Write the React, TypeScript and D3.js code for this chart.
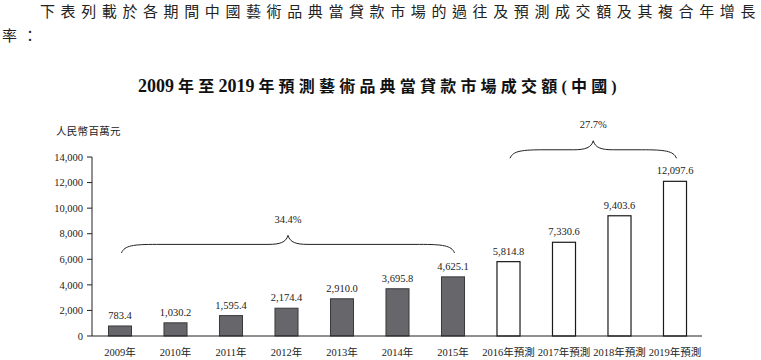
import React from "react";
import * as d3 from "d3";

const categories = [
  "2009年", "2010年", "2011年", "2012年", "2013年", "2014年", "2015年",
  "2016年預測", "2017年預測", "2018年預測", "2019年預測",
];
const values = [783.4, 1030.2, 1595.4, 2174.4, 2910.0, 3695.8, 4625.1, 5814.8, 7330.6, 9403.6, 12097.6];
const forecast = [false, false, false, false, false, false, false, true, true, true, true];
const yTicks = [0, 2000, 4000, 6000, 8000, 10000, 12000, 14000];
const cagrLabels = ["34.4%", "27.7%"];
const cagrFrom = ["2009年", "2016年預測"];
const cagrTo = ["2015年", "2019年預測"];
const braceLevels = [6500, 13900];

const FONT = "'Liberation Serif', 'Noto Sans CJK TC', serif";
const W = 761;
const H = 360;

export default function App() {
  const y = d3.scaleLinear().domain([0, 14000]).range([336, 157]);
  const x = d3
    .scaleBand<string>()
    .domain(categories)
    .range([92.25, 702.75])
    .paddingInner(0.585)
    .paddingOuter(0.2925);
  const bw = x.bandwidth();
  const fmt = d3.format(",.1f");
  const tickFmt = d3.format(",");

  const bracePath = (x0: number, x1: number, yb: number) => {
    const yh = yb - 8.5;
    const yp = yb - 17.5;
    const xc = (x0 + x1) / 2;
    const p = d3.path();
    p.moveTo(x0, yb);
    p.bezierCurveTo(x0 + 3, yh + 1, x0 + 12, yh, x0 + 35, yh);
    p.lineTo(xc - 20, yh);
    p.bezierCurveTo(xc - 8, yh, xc - 2, yh - 2, xc, yp);
    p.bezierCurveTo(xc + 2, yh - 2, xc + 8, yh, xc + 20, yh);
    p.lineTo(x1 - 35, yh);
    p.bezierCurveTo(x1 - 12, yh, x1 - 3, yh + 1, x1, yb);
    return p.toString();
  };

  return (
    <svg
      width={W}
      height={H}
      style={{ position: "absolute", left: 0, top: 0, background: "#fff" }}
      fontFamily={FONT}
    >
      {/* intro paragraph */}
      <text x={40} y={17} fontSize={15} letterSpacing={5.6} fill="#222">
        下表列載於各期間中國藝術品典當貸款市場的過往及預測成交額及其複合年增長
      </text>
      <text x={2} y={41} fontSize={15} letterSpacing={5.6} fill="#222">
        率：
      </text>

      {/* title */}
      <text x={138} y={92} fontWeight="bold" fill="#111">
        <tspan fontSize={18}>2009</tspan>
        <tspan fontSize={16} dx={4} letterSpacing={4.2}>年至</tspan>
        <tspan fontSize={18}>2019</tspan>
        <tspan fontSize={16} dx={4} letterSpacing={4.2}>年預測藝術品典當貸款市場成交額(中國)</tspan>
      </text>

      {/* unit */}
      <text x={56} y={135} fontSize={10.5} letterSpacing={0.3} fill="#222">
        人民幣百萬元
      </text>

      {/* y axis */}
      <line x1={92} x2={92} y1={y(14000)} y2={y(0)} stroke="#222" strokeWidth={1} />
      {yTicks.map((t) => (
        <g key={t}>
          <line x1={87} x2={92} y1={y(t)} y2={y(t)} stroke="#222" strokeWidth={1} />
          <text x={83} y={y(t)} dy="0.35em" textAnchor="end" fontSize={10.5} fill="#222">
            {tickFmt(t)}
          </text>
        </g>
      ))}

      {/* bars */}
      {categories.map((c, i) => {
        const bx = x(c)!;
        const top = y(values[i]);
        return (
          <g key={c}>
            <rect
              x={bx}
              y={top}
              width={bw}
              height={y(0) - top}
              fill={forecast[i] ? "#fff" : "#67676b"}
              stroke={forecast[i] ? "#1a1a1a" : "#38383b"}
              strokeWidth={forecast[i] ? 1.2 : 1}
            />
            <text
              x={bx + bw / 2}
              y={top - 7}
              textAnchor="middle"
              fontSize={10.5}
              fill="#222"
            >
              {fmt(values[i])}
            </text>
            <text
              x={bx + bw / 2}
              y={356}
              textAnchor="middle"
              fontSize={10.5}
              fill="#222"
            >
              {c}
            </text>
          </g>
        );
      })}

      {/* x axis */}
      <line x1={92} x2={702} y1={y(0)} y2={y(0)} stroke="#222" strokeWidth={1.2} />

      {/* CAGR braces */}
      {cagrLabels.map((lab, i) => {
        const x0 = x(cagrFrom[i])! + bw / 2 + 1.5;
        const x1 = x(cagrTo[i])! + bw / 2 + 1.5;
        const yb = y(braceLevels[i]);
        return (
          <g key={lab}>
            <path d={bracePath(x0, x1, yb)} fill="none" stroke="#222" strokeWidth={1} />
            <text
              x={(x0 + x1) / 2}
              y={yb - 30}
              textAnchor="middle"
              fontSize={10.5}
              fill="#222"
            >
              {lab}
            </text>
          </g>
        );
      })}
    </svg>
  );
}
